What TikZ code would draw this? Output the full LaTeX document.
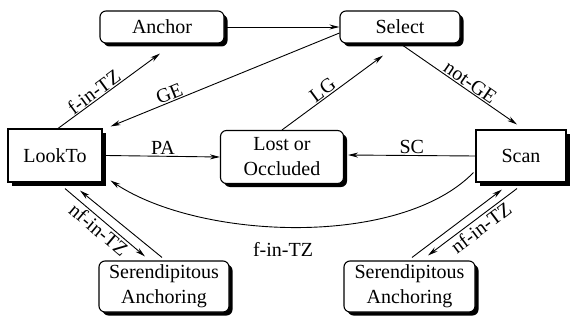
\documentclass[tikz,border=0pt]{standalone}
\usepackage{fontspec}
\setmainfont{Liberation Serif}
\usetikzlibrary{shadows,arrows.meta,calc}
\begin{document}
\begin{tikzpicture}[x=1pt,y=-1pt,
  font=\fontsize{20}{25}\selectfont,
  box/.style={draw,line width=1.1pt,fill=white,align=center,inner sep=0pt,
    drop shadow={shadow xshift=3.5pt,shadow yshift=-3.5pt,fill=black,opacity=1}},
  rbox/.style={box,rounded corners=6pt},
  arr/.style={line width=0.9pt,-{Stealth[length=10pt,width=5pt]}},
  lab/.style={inner sep=1pt}]
\useasboundingbox (0,0) rectangle (572,321);
\node[rbox,minimum width=124pt,minimum height=32pt] (anchor) at (162,27) {Anchor};
\node[rbox,minimum width=120pt,minimum height=32pt] (select) at (400,27) {Select};
\node[box,minimum width=94pt,minimum height=53pt] (lookto) at (55,155.5) {LookTo};
\node[rbox,minimum width=123pt,minimum height=53pt] (lost) at (282,157) {Lost or\\Occluded};
\node[box,minimum width=90pt,minimum height=52pt] (scan) at (521,156) {Scan};
\node[rbox,minimum width=130pt,minimum height=51pt] (sal) at (164,286.5) {Serendipitous\\Anchoring};
\node[rbox,minimum width=131pt,minimum height=51pt] (sar) at (409.5,286.5) {Serendipitous\\Anchoring};

\draw[arr] (anchor.east) -- (select.west);
\draw[arr] ($(lookto.north)+(3,0)$) -- node[lab,sloped,above,pos=0.4] {f-in-TZ} ($(anchor.south)+(-2,10)$);
\draw[arr] ($(select.west)+(0,6)$) -- node[lab,sloped,above,pos=0.73] {GE} ($(lookto.north east)+(8,-2)$);
\draw[arr] (lost.north) -- node[lab,sloped,above,pos=0.45] {LG} ($(select.south)+(-17,12)$);
\draw[arr] ($(select.south)+(3,2)$) -- node[lab,sloped,above,pos=0.55] {not-GE} ($(scan.north)+(-4,-5)$);
\draw[arr] ($(lookto.east)+(3.5,0)$) -- node[lab,above] {PA} (lost.west);
\draw[arr] (scan.west) -- node[lab,above] {SC} ($(lost.east)+(4,-2)$);
\draw[arr] ($(scan.south west)+(-2,-10)$) .. controls (400,248) and (200,240) .. ($(lookto.south east)+(8,-2)$);
\node[lab] (fintz) at (283,249) {f-in-TZ};
\draw[arr] ($(lookto.south)+(10,6)$) -- node[lab,sloped,below,pos=0.5,inner sep=2pt] {nf-in-TZ} ($(sal.north)+(-19,-4)$);
\draw[arr] ($(sal.north)+(-2,-3)$) -- ($(lookto.south)+(25,8)$);
\draw[arr] ($(sar.north)+(2.5,-3)$) -- ($(scan.south)+(-19,7)$);
\draw[arr] ($(scan.south)+(-4,6)$) -- node[lab,sloped,below,pos=0.47,inner sep=2pt] {nf-in-TZ} ($(sar.north)+(18.5,-5)$);
\end{tikzpicture}
\end{document}
